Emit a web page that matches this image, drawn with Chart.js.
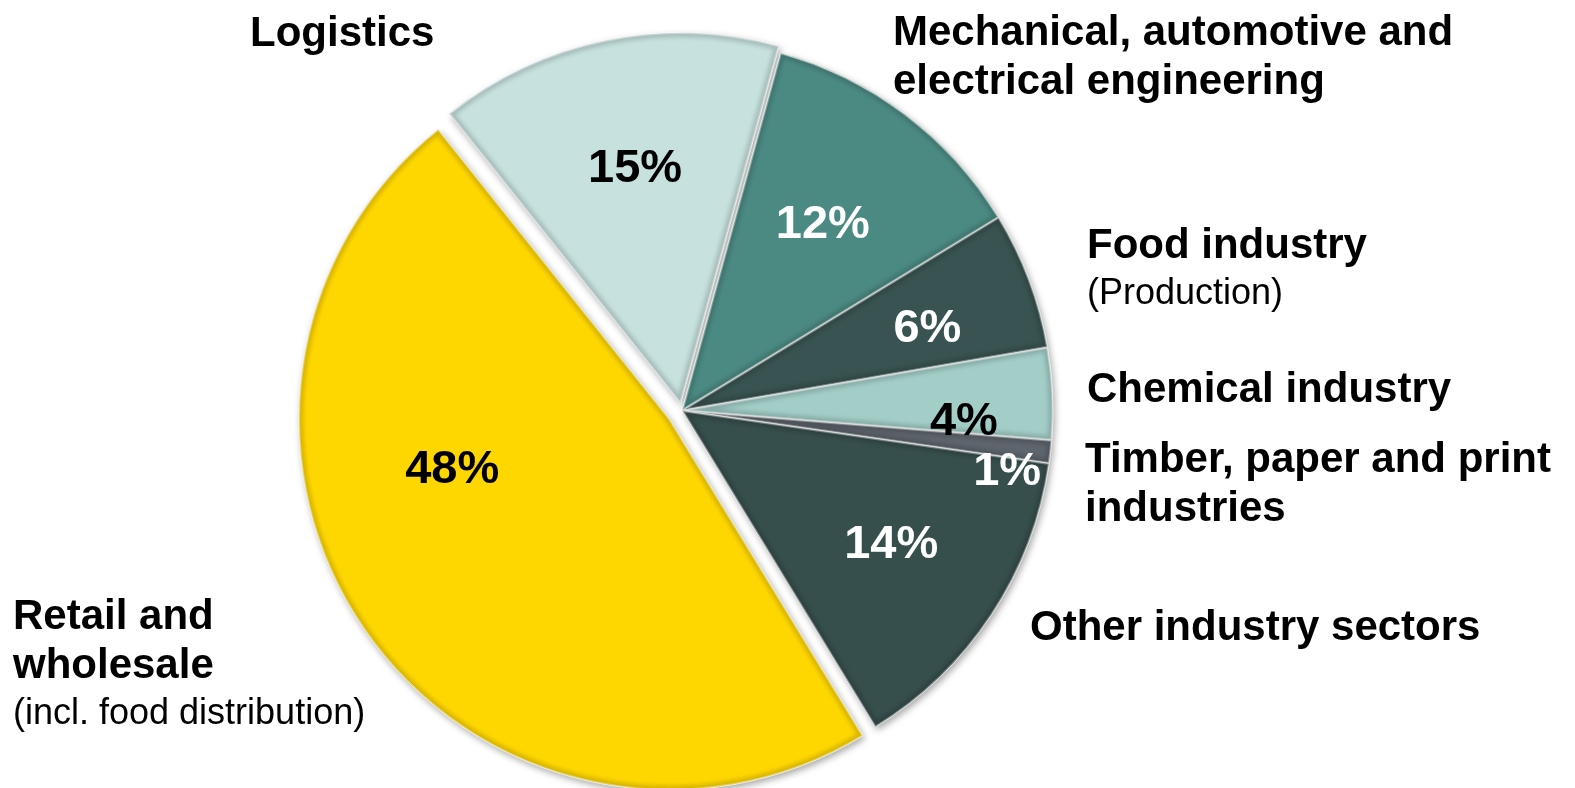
<!DOCTYPE html>
<html>
<head>
<meta charset="utf-8">
<title>Sector shares</title>
<script src="https://cdn.jsdelivr.net/npm/chart.js@4.4.1/dist/chart.umd.min.js"></script>
<style>
  html, body { margin: 0; padding: 0; background: #ffffff; }
  #wrap { width: 1575px; height: 788px; position: relative; }
</style>
</head>
<body>
<div id="wrap"><canvas id="sectorPie"></canvas></div>
<script>
// shares by industry sector, clockwise starting with Logistics
var sectors = [
    ["Logistics"],
    ["Mechanical, automotive and", "electrical engineering"],
    ["Food industry"],
    ["Chemical industry"],
    ["Timber, paper and print", "industries"],
    ["Other industry sectors"],
    ["Retail and", "wholesale"]
];
var sectorNotes = ["", "", "(Production)", "", "", "", "(incl. food distribution)"];
var shares = [15, 12, 6, 4, 1, 14, 48];

var sliceColors = ['#c6e1de', '#4b8a83', '#385351', '#a3cec8', '#5e656d', '#364e4c', '#ffd700'];
var valueColors = ['#000000', '#ffffff', '#ffffff', '#000000', '#ffffff', '#ffffff', '#000000'];
var pullOut = [7, 0, 0, 0, 0, 0, 15];

// where the % text sits inside each slice: [angle shift in degrees, fraction of radius]
var valuePlace = [[0.8, 0.655], [-0.3, 0.635], [1.5, 0.70], [4.2, 0.76], [3.6, 0.89], [-1.4, 0.665], [22.7, 0.60]];
// outer captions: left x and first baseline
var captionPlace = [[250, 46], [893, 45], [1087, 258], [1087, 402], [1085, 472], [1030, 640], [13, 629]];

var FONT = "'Liberation Sans', Arial, sans-serif";

function pulledCenter(arc, i) {
    var mid = (arc.startAngle + arc.endAngle) / 2;
    var d = pullOut[i] || 0;
    return { x: arc.x + Math.cos(mid) * d, y: arc.y + Math.sin(mid) * d, mid: mid };
}

function slicePath(ctx, arc, i) {
    var c = pulledCenter(arc, i);
    ctx.beginPath();
    ctx.moveTo(c.x, c.y);
    ctx.arc(c.x, c.y, arc.outerRadius, arc.startAngle, arc.endAngle);
    ctx.closePath();
    return c;
}

// exploded slices: shift each arc outwards along its middle angle
var pullPlugin = {
    id: 'pullSlices',
    afterUpdate: function(chart) {
        chart.getDatasetMeta(0).data.forEach(function(arc, i) {
            if (arc._pullWrapped) return;
            var baseDraw = arc.draw;
            arc.draw = function(ctx, area) {
                var c = pulledCenter(this, i);
                ctx.save();
                ctx.translate(c.x - this.x, c.y - this.y);
                baseDraw.call(this, ctx, area);
                ctx.restore();
            };
            arc._pullWrapped = true;
        });
    },
    beforeDatasetsDraw: function(chart) {
        // soft drop shadow under the whole pie
        var ctx = chart.ctx;
        chart.getDatasetMeta(0).data.forEach(function(arc, i) {
            ctx.save();
            ctx.shadowColor = 'rgba(0,0,0,0.35)';
            ctx.shadowBlur = 7;
            ctx.shadowOffsetX = 2;
            ctx.shadowOffsetY = 3;
            ctx.fillStyle = '#ffffff';
            slicePath(ctx, arc, i);
            ctx.fill();
            ctx.restore();
        });
    },
    afterDatasetsDraw: function(chart) {
        // rounded bevel along the slice edges
        var ctx = chart.ctx;
        chart.getDatasetMeta(0).data.forEach(function(arc, i) {
            ctx.save();
            slicePath(ctx, arc, i);
            ctx.clip();
            ctx.filter = 'blur(2px)';
            ctx.lineWidth = 9;
            ctx.strokeStyle = 'rgba(0,0,0,0.16)';
            slicePath(ctx, arc, i);
            ctx.stroke();
            ctx.filter = 'none';
            ctx.lineWidth = 3;
            ctx.strokeStyle = 'rgba(255,255,255,0.35)';
            slicePath(ctx, arc, i);
            ctx.stroke();
            ctx.restore();
        });
    }
};

var labelPlugin = {
    id: 'sectorLabels',
    afterDraw: function(chart) {
        var ctx = chart.ctx;
        var meta = chart.getDatasetMeta(0);
        ctx.save();
        ctx.textAlign = 'center';
        ctx.textBaseline = 'alphabetic';
        ctx.font = 'bold 47px ' + FONT;
        meta.data.forEach(function(arc, i) {
            var c = pulledCenter(arc, i);
            var a = c.mid + valuePlace[i][0] * Math.PI / 180;
            var r = arc.outerRadius * valuePlace[i][1];
            ctx.fillStyle = valueColors[i];
            ctx.fillText(shares[i] + '%', c.x + Math.cos(a) * r, c.y + Math.sin(a) * r + 47 * 0.716 / 2);
        });

        ctx.textAlign = 'left';
        ctx.fillStyle = '#000000';
        sectors.forEach(function(lines, i) {
            var x = captionPlace[i][0];
            var y = captionPlace[i][1];
            ctx.font = 'bold 42px ' + FONT;
            lines.forEach(function(line, k) {
                ctx.fillText(line, x, y + k * 49);
            });
            if (sectorNotes[i]) {
                ctx.font = '36px ' + FONT;
                ctx.fillText(sectorNotes[i], x, y + (lines.length - 1) * 49 + 46);
            }
        });
        ctx.restore();
    }
};

var canvasElement = document.getElementById('sectorPie');
var config = {
    type: 'pie',
    data: {
        labels: sectors.map(function(l) { return l.join(' '); }),
        datasets: [{
            data: shares,
            backgroundColor: sliceColors,
            borderColor: 'rgba(255,255,255,0.85)',
            borderWidth: 1,
            hoverOffset: 0,
            hoverBorderWidth: 1
        }]
    },
    options: {
        responsive: true,
        maintainAspectRatio: false,
        animation: false,
        rotation: -38.6,
        layout: { padding: { left: 0, right: 211, top: 39, bottom: 6 } },
        plugins: {
            legend: { display: false },
            tooltip: { enabled: false }
        },
        events: []
    },
    plugins: [pullPlugin, labelPlugin]
};

var sectorChart = new Chart(canvasElement, config);
</script>
</body>
</html>
